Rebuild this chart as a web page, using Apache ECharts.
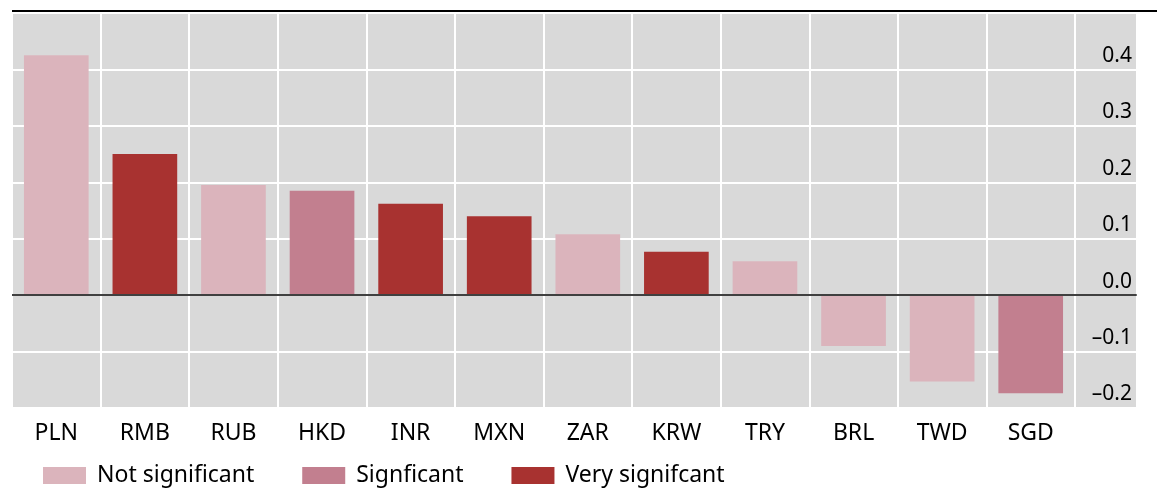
<!DOCTYPE html>
<html>
<head>
<meta charset="utf-8">
<script src="https://cdn.jsdelivr.net/npm/echarts@6/dist/echarts.min.js"></script>
<style>
  html, body { margin: 0; padding: 0; background: #fff; }
  #main { width: 1157px; height: 492px; }
</style>
</head>
<body>
<div id="main"></div>
<script>
// currencies and their estimated values, split by significance
const categories = ['PLN', 'RMB', 'RUB', 'HKD', 'INR', 'MXN', 'ZAR', 'KRW', 'TRY', 'BRL', 'TWD', 'SGD']
const notSignificant = [0.425, '-', 0.195, '-', '-', '-', 0.108, '-', 0.06, -0.09, -0.153, '-']
const significant = ['-', '-', '-', 0.185, '-', '-', '-', '-', '-', '-', '-', -0.174]
const verySignificant = ['-', 0.25, '-', '-', 0.162, 0.14, '-', 0.077, '-', '-', '-', '-']

const FONT = 'Noto Sans'
const chart = echarts.init(document.getElementById('main'))

const option = {
  animation: false,
  textStyle: { fontFamily: FONT },
  grid: [
    { left: 12, right: 82, top: 13, bottom: 84, show: true, backgroundColor: '#d9d9d9', borderWidth: 0 },
    { left: 1075, right: 21, top: 13, bottom: 84, show: true, backgroundColor: '#d9d9d9', borderWidth: 0 }
  ],
  legend: {
    left: 43,
    top: 464,
    padding: 0,
    itemWidth: 43,
    itemHeight: 17,
    itemGap: 48,
    icon: 'rect',
    textStyle: { fontSize: 23, color: '#000', fontFamily: FONT, padding: [0, 0, 0, 6] },
    data: ['Not significant', 'Signficant', 'Very signifcant']
  },
  xAxis: [
    {
      type: 'category',
      gridIndex: 0,
      data: categories,
      axisLine: { show: false },
      axisTick: { show: false },
      axisLabel: { fontSize: 23, color: '#000', margin: 14, interval: 0 },
      splitLine: { show: true, interval: 0, lineStyle: { color: '#fff', width: 2 } }
    },
    {
      type: 'category',
      gridIndex: 1,
      data: [''],
      axisLine: { show: true, onZero: true, lineStyle: { color: '#404040', width: 2 } },
      axisTick: { show: false },
      axisLabel: { show: false },
      splitLine: { show: false }
    }
  ],
  yAxis: [
    {
      type: 'value',
      gridIndex: 0,
      min: -0.2,
      max: 0.5,
      interval: 0.1,
      axisLine: { show: false },
      axisTick: { show: false },
      axisLabel: { show: false },
      splitLine: { lineStyle: { color: '#fff', width: 2 } }
    },
    {
      type: 'value',
      gridIndex: 1,
      position: 'right',
      min: -0.2,
      max: 0.5,
      interval: 0.1,
      axisLine: { show: false },
      axisTick: { show: false },
      axisLabel: {
        inside: true,
        margin: 4,
        fontSize: 21,
        color: '#000',
        verticalAlign: 'bottom',
        padding: [0, 0, 3, 0],
        showMaxLabel: false,
        formatter: v => {
          if (v > 0.45) return ''
          const s = Math.abs(v).toFixed(1)
          return v < -0.001 ? '\u2013' + s : s
        }
      },
      splitLine: { lineStyle: { color: '#fff', width: 2 } }
    }
  ],
  series: [
    {
      name: 'Not significant',
      type: 'bar',
      stack: 'all',
      barWidth: '73%',
      data: notSignificant,
      itemStyle: { color: '#dbb4bc' }
    },
    {
      name: 'Signficant',
      type: 'bar',
      stack: 'all',
      barWidth: '73%',
      data: significant,
      itemStyle: { color: '#c27f8f' }
    },
    {
      name: 'Very signifcant',
      type: 'bar',
      stack: 'all',
      barWidth: '73%',
      data: verySignificant,
      itemStyle: { color: '#a83230' },
      markLine: {
        silent: true,
        symbol: 'none',
        label: { show: false },
        lineStyle: { color: '#404040', width: 2, type: 'solid' },
        data: [{ yAxis: 0 }]
      }
    }
  ],
  graphic: [
    {
      type: 'line',
      shape: { x1: 12, y1: 11, x2: 1157, y2: 11 },
      style: { stroke: '#000', lineWidth: 2 }
    }
  ]
}

chart.setOption(option)
</script>
</body>
</html>
